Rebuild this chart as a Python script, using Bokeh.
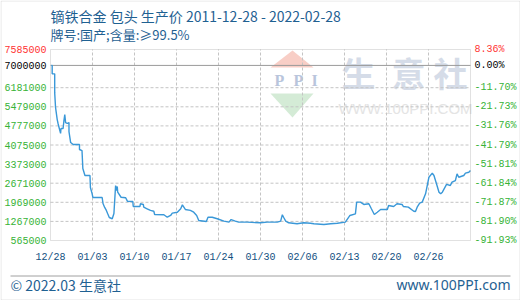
from bokeh.plotting import figure
from bokeh.models import Range1d, BoxAnnotation, ColumnDataSource
from bokeh.embed import file_html
from bokeh.resources import INLINE
from bokeh.core.properties import value

title_text = "镝铁合金 包头 生产价 2011-12-28 - 2022-02-28"
subtitle_text = "牌号:国产;含量:≥99.5%"
footer_left = "© 2022.03 生意社"
footer_right = "www.100PPI.com"

x_tick_labels = ["12/28", "01/03", "01/10", "01/17", "01/24", "01/30",
                 "02/06", "02/13", "02/20", "02/26"]
y_ticks = [565000, 1267000, 1969000, 2671000, 3373000, 4075000, 4777000,
           5479000, 6181000, 7000000, 7585000]
pct_labels = ["-91.93%", "-81.90%", "-71.87%", "-61.84%", "-51.81%", "-41.79%",
              "-31.76%", "-21.73%", "-11.70%", "0.00%", "8.36%"]
base_price = 7000000

# position along the time axis, in units of tick intervals
pos = [0.02, 0.04, 0.04, 0.10, 0.10, 0.12, 0.16, 0.18, 0.21, 0.24, 0.25, 0.30,
       0.32, 0.34, 0.36, 0.40, 0.44, 0.44, 0.48, 0.54, 0.69, 0.69, 0.75, 0.77,
       0.82, 0.94, 0.95, 0.99, 1.01, 1.23, 1.25, 1.29, 1.33, 1.36, 1.40, 1.47,
       1.51, 1.55, 1.57, 1.59, 1.60, 1.68, 1.79, 1.83, 1.96, 1.97, 2.13, 2.14,
       2.21, 2.22, 2.30, 2.38, 2.46, 2.48, 2.70, 2.78, 2.86, 2.90, 3.02, 3.10,
       3.14, 3.21, 3.33, 3.41, 3.48, 3.53, 3.71, 3.75, 3.85, 3.97, 4.13, 4.25,
       4.30, 4.40, 4.48, 4.68, 5.00, 5.16, 5.40, 5.48, 5.52, 5.55, 5.60, 5.67,
       5.87, 6.03, 6.19, 6.27, 6.51, 6.67, 6.83, 7.02, 7.13, 7.26, 7.29, 7.38,
       7.46, 7.58, 7.64, 7.71, 7.78, 7.86, 8.02, 8.05, 8.17, 8.25, 8.37, 8.40,
       8.52, 8.65, 8.69, 8.73, 8.79, 8.85, 8.93, 9.01, 9.09, 9.13, 9.19, 9.25,
       9.29, 9.33, 9.43, 9.52, 9.56, 9.64, 9.68, 9.72, 9.84, 9.88, 9.96, 10.00]
price = [7000000, 7000000, 6690000, 6690000, 5990000, 5460000, 5010000, 4865000,
         4680000, 4500000, 4680000, 4680000, 4975000, 5195000, 4900000, 4865000,
         4900000, 4570000, 4165000, 4095000, 4095000, 3910000, 3870000, 3210000,
         2955000, 2955000, 2515000, 2290000, 2145000, 2145000, 1925000, 1780000,
         1670000, 1555000, 1410000, 1365000, 1557000, 2585000, 2400000, 2550000,
         2340000, 2155000, 2135000, 2010000, 2000000, 1815000, 1815000, 1915000,
         1890000, 1790000, 1730000, 1670000, 1640000, 1520000, 1510000, 1420000,
         1485000, 1570000, 1605000, 1730000, 1875000, 1705000, 1670000, 1605000,
         1485000, 1300000, 1265000, 1420000, 1420000, 1365000, 1275000, 1240000,
         1335000, 1275000, 1240000, 1240000, 1215000, 1240000, 1240000, 1275000,
         1510000, 1420000, 1275000, 1215000, 1180000, 1215000, 1200000, 1180000,
         1155000, 1180000, 1200000, 1240000, 1485000, 1545000, 1975000, 1975000,
         1890000, 1915000, 1730000, 1520000, 1605000, 1705000, 1705000, 1850000,
         1815000, 1915000, 1890000, 1815000, 1790000, 1640000, 1630000, 1790000,
         1935000, 1975000, 2280000, 2890000, 3040000, 2955000, 2650000, 2340000,
         2280000, 2340000, 2625000, 2585000, 2710000, 2770000, 3015000, 2890000,
         2955000, 3040000, 3075000, 3140000]

# ---- layout (pixels of the 520x300 canvas) ----
W, H = 520, 300
PL, PR, PT, PB = 50, 470, 49, 240          # plot-area box
x0, x1 = 0, len(x_tick_labels)             # data extent along x
y0, y1 = y_ticks[0], y_ticks[-1]           # data extent along y
ux = (x1 - x0) / (PR - PL)                 # data per pixel
uy = (y1 - y0) / (PB - PT)


def dx(px):
    return x0 + (px - PL) * ux


def dy(py):
    return y1 - (py - PT) * uy


p = figure(width=W, height=H, x_range=Range1d(dx(0), dx(W)), y_range=Range1d(dy(H), dy(0)),
           x_axis_type=None, y_axis_type=None, output_backend="svg", toolbar_location=None,
           min_border=0, min_border_left=0, min_border_right=0, min_border_top=0,
           min_border_bottom=0)
p.background_fill_color = "white"
p.border_fill_color = "white"
p.outline_line_color = None

MONO = value("Liberation Mono")
CJK = value("Noto Sans CJK SC")
GREEN = "#36b336"
RED = "#ff3333"
BLUE = "#1f6192"
GRID = "#c4c4c4"
FRAME = "#9a9a9a"

# watermark (behind everything)
p.patch([dx(270), dx(292), dx(313)], [dy(67), dy(50), dy(67)],
        fill_color="#f6c2b8", fill_alpha=0.8, line_color=None)
p.patch([dx(270), dx(292), dx(313)], [dy(93), dy(117), dy(93)],
        fill_color="#c9e6cc", fill_alpha=0.8, line_color=None)
p.text(x=[dx(279), dx(298), dx(314)], y=[dy(80)] * 3, text=["P", "P", "I"],
       text_font=value("Liberation Serif"), text_font_style="bold", text_font_size="16px",
       text_color="#b9c5dc", text_align="center", text_baseline="middle")
p.text(x=[dx(358), dx(408), dx(450)], y=[dy(72)] * 3, text=["生", "意", "社"],
       text_font=CJK, text_font_style="bold", text_font_size="34px",
       text_color="#d5dce8", text_align="center", text_baseline="middle")
p.text(x=[dx(405)], y=[dy(108)], text=["WWW.100PPI.COM"],
       text_font=value("Liberation Sans"), text_font_size="15px",
       text_color="#e4e4e4", text_align="center", text_baseline="middle")

# grid lines (dashed), from the tick arrays
vt = list(range(1, len(x_tick_labels)))
p.segment(x0=vt, y0=[y0] * len(vt), x1=vt, y1=[y1] * len(vt),
          line_color=GRID, line_dash="3 2", line_width=1)
ht = y_ticks[1:-2]
p.segment(x0=[x0] * len(ht), y0=ht, x1=[x1] * len(ht), y1=ht,
          line_color=GRID, line_dash="3 2", line_width=1)
# base (0.00%) line
p.segment(x0=[x0], y0=[base_price], x1=[x1], y1=[base_price], line_color=FRAME, line_width=1)

# plot-area frame
p.add_layout(BoxAnnotation(left=x0, right=x1, bottom=y0, top=y1, fill_alpha=0,
                           line_color=FRAME, line_width=1))

# price line
p.line(pos, price, line_color="#3a98d8", line_width=1.4)

# y tick labels, left (price) and right (% vs base)
lab_colors = [GREEN] * (len(y_ticks) - 2) + ["black", RED]
ysrc = ColumnDataSource(dict(
    y=y_ticks,
    xl=[dx(PL - 4)] * len(y_ticks),
    xr=[dx(PR + 4)] * len(y_ticks),
    left=[str(v) for v in y_ticks],
    right=pct_labels,
    color=lab_colors,
))
p.text(x="xl", y="y", text="left", source=ysrc, text_color="color", text_font=MONO,
       text_font_size="10px", text_align="right", text_baseline="middle")
p.text(x="xr", y="y", text="right", source=ysrc, text_color="color", text_font=MONO,
       text_font_size="10px", text_align="left", text_baseline="middle")

# x tick labels
p.text(x=list(range(len(x_tick_labels))), y=[dy(257)] * len(x_tick_labels),
       text=x_tick_labels, text_font=MONO, text_font_size="10px",
       text_color="#12507f", text_align="center", text_baseline="middle")

# titles
p.text(x=[dx(50)], y=[dy(15)], text=[title_text], text_font=CJK, text_font_size="14px",
       text_color=BLUE, text_align="left", text_baseline="middle")
p.text(x=[dx(50)], y=[dy(34)], text=[subtitle_text], text_font=CJK, text_font_size="13px",
       text_color=BLUE, text_align="left", text_baseline="middle")

# footer
p.segment(x0=[dx(10)], y0=[dy(275.5)], x1=[dx(510)], y1=[dy(275.5)],
          line_color="#a0a0a0", line_width=1)
p.text(x=[dx(10)], y=[dy(284)], text=[footer_left], text_font=CJK, text_font_size="14px",
       text_color=BLUE, text_align="left", text_baseline="middle")
p.text(x=[dx(510)], y=[dy(284)], text=[footer_right], text_font=value("Noto Sans"),
       text_font_size="14px", text_color=BLUE, text_align="right", text_baseline="middle")

# outer border
p.add_layout(BoxAnnotation(left=dx(0.5), right=dx(W - 0.5), top=dy(0.5), bottom=dy(H - 0.5),
                           fill_alpha=0, line_color="#a8a8a8", line_width=1))

open("out.html", "w").write(file_html(p, INLINE))
